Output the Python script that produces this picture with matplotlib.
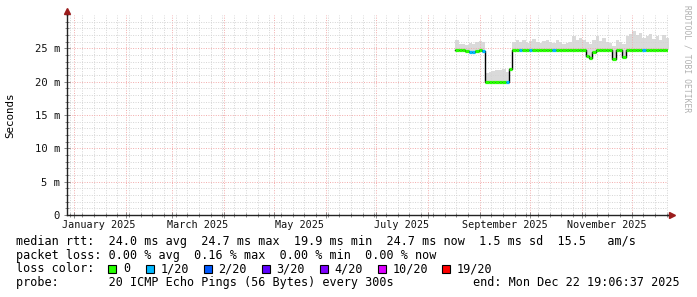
import matplotlib
matplotlib.use("Agg")
import matplotlib.pyplot as plt
import matplotlib.dates as mdates
from matplotlib.patches import Rectangle
from matplotlib.ticker import FixedLocator
import pandas as pd

W, H = 697, 297

# graph window
t_start = pd.Timestamp("2024-12-27 22:00")
t_end = pd.Timestamp("2025-12-22 19:06:37")

# samples, one every 2 days starting here
first_sample = "2025-08-17 12:00"

# median rtt in ms
median_ms = [24.7, 24.7, 24.7, 24.6, 24.5, 24.5, 24.6, 24.7, 24.6,
             19.9, 19.9, 19.9, 19.9, 19.9, 19.9, 19.9, 21.9,
             24.7, 24.7, 24.7, 24.7, 24.7, 24.7, 24.7, 24.7, 24.7, 24.7,
             24.7, 24.7, 24.7, 24.7, 24.7, 24.7, 24.7, 24.7, 24.7, 24.7,
             24.7, 24.7, 23.9, 23.6, 24.5, 24.7, 24.7, 24.7, 24.7, 24.7,
             23.4, 24.7, 24.7, 23.7, 24.7, 24.7, 24.7, 24.7, 24.7, 24.7,
             24.7, 24.7, 24.7, 24.7, 24.7, 24.7, 24.7]

# top of the smoke (slowest pings) in ms
smoke_hi_ms = [26.3, 25.6, 25.7, 25.5, 25.8, 25.6, 25.9, 26.1, 26.0,
               21.3, 21.5, 21.6, 21.8, 21.7, 21.9, 21.4, 22.0,
               25.9, 26.3, 26.0, 26.2, 25.8, 26.1, 26.4, 25.9, 25.8, 26.1,
               26.3, 25.9, 25.8, 26.2, 25.9, 25.7, 25.8, 26.0, 26.9, 26.3,
               26.6, 26.2, 26.0, 25.6, 26.2, 26.8, 26.1, 26.5, 26.0, 25.8,
               25.4, 26.3, 25.9, 25.7, 26.8, 27.2, 27.6, 27.0, 27.3, 26.6,
               26.9, 27.1, 26.4, 26.9, 26.3, 27.0, 26.6]

# lost pings out of 20
loss = [0, 0, 0, 0, 1, 1, 0, 0, 1,
        0, 0, 0, 0, 0, 0, 1, 0,
        0, 0, 1, 0, 0, 1, 0, 0, 0, 0,
        0, 0, 1, 0, 0, 0, 0, 0, 0, 0,
        0, 0, 0, 0, 0, 0, 0, 0, 0, 0,
        0, 0, 0, 0, 0, 0, 0, 0, 0, 1,
        0, 0, 0, 0, 0, 0, 0]

loss_steps = [0, 1, 2, 3, 4, 10, 19]
loss_labels = ["0", "1/20", "2/20", "3/20", "4/20", "10/20", "19/20"]
loss_colors = ["#26ff00", "#00b8ff", "#0059ff", "#5e00ff", "#7e00ff", "#dd00ff", "#ff0000"]
color_of = dict(zip(loss_steps, loss_colors))

y_ticks = [0, 5, 10, 15, 20, 25]
y_labels = ["0", "5 m", "10 m", "15 m", "20 m", "25 m"]

month_labels = ["January 2025", "March 2025", "May 2025", "July 2025",
                "September 2025", "November 2025"]
month_label_dates = ["2025-01-16", "2025-03-16", "2025-05-16", "2025-07-16",
                     "2025-09-16", "2025-11-16"]

MONO = "DejaVu Sans Mono"
plt.rcParams["font.family"] = MONO


def fx(px):
    return px / W


def fy(py):
    return 1 - py / H


fig = plt.figure(figsize=(W / 100, H / 100), dpi=100)
ax = fig.add_axes([fx(67), fy(215), 601 / W, 200 / H])

edges = mdates.date2num(pd.date_range(first_sample, periods=len(median_ms) + 1, freq="2D"))
med_ext = median_ms + [median_ms[-1]]
hi_ext = smoke_hi_ms + [smoke_hi_ms[-1]]

# smoke
ax.fill_between(edges, med_ext, hi_ext, step="post", color="#dadada", lw=0, zorder=1)
# median, black connector + loss coloured segments
ax.step(edges, med_ext, where="post", color="black", lw=1.0, zorder=2)
ax.hlines(median_ms, edges[:-1], edges[1:], colors=[color_of[l] for l in loss],
          lw=2.3, zorder=3)

ax.set_xlim(mdates.date2num(t_start), mdates.date2num(t_end))
ax.set_ylim(0, 30)

ax.xaxis.set_major_locator(mdates.MonthLocator())
ax.xaxis.set_minor_locator(mdates.WeekdayLocator(byweekday=mdates.MO))
ax.xaxis.set_major_formatter(plt.NullFormatter())
ax.yaxis.set_major_locator(FixedLocator(y_ticks))
ax.yaxis.set_minor_locator(FixedLocator(range(1, 30)))
ax.set_yticklabels(y_labels)

ax.set_axisbelow("line")
ax.grid(which="minor", color="#d4d4d4", ls=(0, (1, 1.5)), lw=0.7)
ax.grid(which="major", color="#f2aaaa", ls=(0, (1, 1.5)), lw=0.7)

for s in ["top", "right"]:
    ax.spines[s].set_visible(False)
for s in ["left", "bottom"]:
    ax.spines[s].set_color("#222222")
    ax.spines[s].set_linewidth(1.0)

ax.tick_params(which="both", direction="inout", color="#777777", width=0.6)
ax.tick_params(which="major", length=4)
ax.tick_params(which="minor", length=2.5)
ax.tick_params(axis="y", labelsize=7.6, pad=3, labelcolor="#111111")

# axis arrows
ax.plot([0, 0], [1, 1.02], transform=ax.transAxes, clip_on=False, color="#222222", lw=1.0)
ax.plot([1, 1.006], [0, 0], transform=ax.transAxes, clip_on=False, color="#222222", lw=1.0)
ax.plot(0, 1.022, marker="^", ms=4, color="#9b1c1c", transform=ax.transAxes, clip_on=False)
ax.plot(1.007, 0, marker=">", ms=4, color="#9b1c1c", transform=ax.transAxes, clip_on=False)

# month labels centred mid month
for lab, d in zip(month_labels, month_label_dates):
    ax.text(mdates.date2num(pd.Timestamp(d)), -0.048, lab, transform=ax.get_xaxis_transform(),
            ha="center", va="center", fontsize=7.3, color="#111111")

fig.text(fx(10), fy(115), "Seconds", rotation=90, ha="center", va="center", fontsize=7.8)
fig.text(fx(687), fy(59), "RRDTOOL / TOBI OETIKER", rotation=-90, ha="center", va="center",
         fontsize=5.8, color="#b0b0b0")

# legend block
fs = 8.5
fig.text(fx(16), fy(241.5),
         "median rtt:  24.0 ms avg  24.7 ms max  19.9 ms min  24.7 ms now  1.5 ms sd  15.5   am/s",
         ha="left", va="center", fontsize=fs)
fig.text(fx(16), fy(255.2),
         "packet loss: 0.00 % avg  0.16 % max  0.00 % min  0.00 % now",
         ha="left", va="center", fontsize=fs)
fig.text(fx(16), fy(269), "loss color:", ha="left", va="center", fontsize=fs)
box_x = [108, 146, 203.5, 261.5, 319.5, 378, 441.5]
for bx, col, lab in zip(box_x, loss_colors, loss_labels):
    fig.patches.append(Rectangle((fx(bx), fy(273)), 8 / W, 8 / H, transform=fig.transFigure,
                                 facecolor=col, edgecolor="black", lw=0.8))
    fig.text(fx(bx + 15), fy(269), lab, ha="left", va="center", fontsize=fs)
fig.text(fx(16), fy(282.8), "probe:       20 ICMP Echo Pings (56 Bytes) every 300s",
         ha="left", va="center", fontsize=fs)
fig.text(fx(680), fy(282.8), "end: Mon Dec 22 19:06:37 2025", ha="right", va="center", fontsize=fs)

fig.savefig("out.png", dpi=100, facecolor="white")
